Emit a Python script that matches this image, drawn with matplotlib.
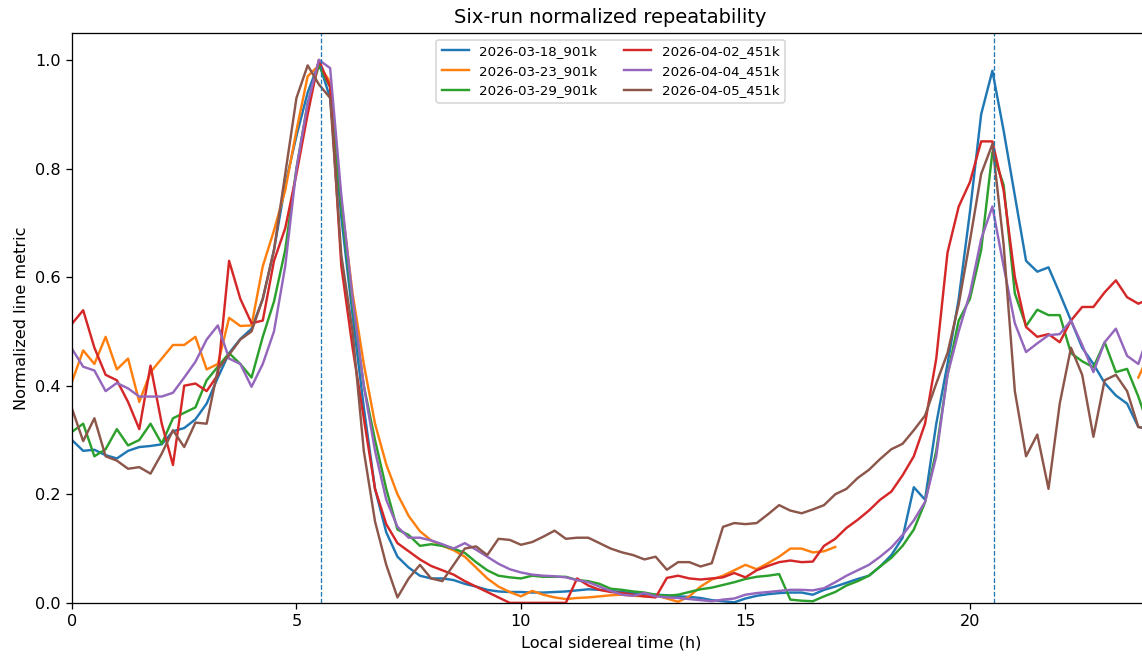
import matplotlib
matplotlib.use('Agg')
import matplotlib.pyplot as plt
import numpy as np

nan = np.nan

# local sidereal time grid (h), 0.25 h steps
lst = np.arange(0, 24.01, 0.25)

run_labels = ["2026-03-18_901k", "2026-03-23_901k", "2026-03-29_901k",
              "2026-04-02_451k", "2026-04-04_451k", "2026-04-05_451k"]

run_0318 = [0.30, 0.28, 0.282, 0.272, 0.266, 0.28, 0.287, 0.289, 0.292, 0.316, 0.322, 0.338,
            0.367, 0.415, 0.46, 0.486, 0.505, 0.56, 0.65, 0.77, 0.86, 0.94, 0.995, 0.93,
            0.71, 0.53, 0.36, 0.21, 0.13, 0.085, 0.065, 0.05, 0.045, 0.045, 0.042, 0.035,
            0.03, 0.024, 0.021, 0.02, 0.02, 0.019, 0.019, 0.02, 0.021, 0.023, 0.025, 0.024,
            0.022, 0.02, 0.018, 0.016, 0.015, 0.014, 0.012, 0.011, 0.009, 0.005, 0.003, 0.001,
            0.008, 0.013, 0.016, 0.018, 0.019, 0.019, 0.015, 0.024, 0.03, 0.037, 0.044, 0.05,
            0.067, 0.088, 0.12, 0.213, 0.19, 0.33, 0.44, 0.56, 0.72, 0.90, 0.98, 0.87,
            0.75, 0.63, 0.61, 0.618, 0.57, 0.52, 0.47, 0.44, 0.405, 0.382, 0.367, 0.324,
            0.32]

run_0323 = [0.407, 0.465, 0.44, 0.49, 0.43, 0.45, 0.37, 0.425, 0.45, 0.475, 0.475, 0.49,
            0.43, 0.44, 0.525, 0.51, 0.511, 0.62, 0.686, 0.76, 0.87, 0.97, 0.99, 0.96,
            0.74, 0.57, 0.44, 0.33, 0.255, 0.20, 0.16, 0.132, 0.115, 0.105, 0.097, 0.085,
            0.065, 0.045, 0.03, 0.02, 0.012, 0.022, 0.015, 0.01, 0.007, 0.009, 0.01, 0.012,
            0.014, 0.015, 0.013, 0.012, 0.014, 0.008, 0.002, 0.012, 0.03, 0.043, 0.05, 0.06,
            0.07, 0.062, 0.073, 0.085, 0.10, 0.10, 0.093, 0.095, 0.103, nan, nan, nan,
            nan, nan, nan, nan, nan, nan, nan, nan, nan, nan, nan, nan,
            nan, nan, nan, nan, nan, nan, nan, nan, nan, nan, nan, 0.415,
            0.46]

run_0329 = [0.315, 0.33, 0.27, 0.283, 0.32, 0.29, 0.30, 0.33, 0.293, 0.34, 0.35, 0.36,
            0.41, 0.435, 0.46, 0.44, 0.415, 0.49, 0.555, 0.65, 0.80, 0.92, 0.99, 0.95,
            0.73, 0.55, 0.40, 0.30, 0.21, 0.135, 0.125, 0.105, 0.108, 0.105, 0.10, 0.092,
            0.075, 0.06, 0.05, 0.047, 0.045, 0.05, 0.048, 0.048, 0.048, 0.042, 0.04, 0.035,
            0.026, 0.024, 0.021, 0.019, 0.015, 0.013, 0.015, 0.02, 0.025, 0.028, 0.033, 0.038,
            0.044, 0.048, 0.05, 0.053, 0.006, 0.004, 0.003, 0.012, 0.02, 0.032, 0.04, 0.05,
            0.067, 0.083, 0.105, 0.135, 0.185, 0.28, 0.42, 0.52, 0.56, 0.65, 0.83, 0.77,
            0.57, 0.51, 0.54, 0.53, 0.53, 0.46, 0.445, 0.434, 0.48, 0.425, 0.431, 0.38,
            0.32]

run_0402 = [0.514, 0.539, 0.47, 0.42, 0.41, 0.37, 0.32, 0.437, 0.33, 0.254, 0.40, 0.404,
            0.39, 0.42, 0.63, 0.56, 0.515, 0.52, 0.63, 0.69, 0.79, 0.90, 1.0, 0.95,
            0.62, 0.47, 0.34, 0.21, 0.145, 0.11, 0.095, 0.08, 0.068, 0.06, 0.052, 0.04,
            0.03, 0.02, 0.01, 0.0, 0.0, 0.0, 0.0, 0.0, 0.0, 0.045, 0.032, 0.024,
            0.02, 0.018, 0.015, 0.012, 0.01, 0.046, 0.05, 0.045, 0.043, 0.045, 0.047, 0.055,
            0.047, 0.06, 0.068, 0.075, 0.078, 0.075, 0.076, 0.105, 0.118, 0.138, 0.153, 0.17,
            0.19, 0.205, 0.235, 0.27, 0.33, 0.45, 0.645, 0.73, 0.775, 0.85, 0.85, 0.76,
            0.60, 0.508, 0.49, 0.495, 0.48, 0.52, 0.545, 0.545, 0.572, 0.594, 0.563, 0.551,
            0.56]

run_0404 = [0.468, 0.435, 0.428, 0.39, 0.405, 0.395, 0.38, 0.38, 0.38, 0.387, 0.415, 0.444,
            0.485, 0.511, 0.45, 0.44, 0.398, 0.44, 0.50, 0.62, 0.80, 0.92, 1.0, 0.985,
            0.75, 0.56, 0.40, 0.28, 0.19, 0.14, 0.12, 0.12, 0.115, 0.108, 0.10, 0.11,
            0.098, 0.085, 0.072, 0.062, 0.056, 0.052, 0.05, 0.049, 0.047, 0.042, 0.038, 0.03,
            0.022, 0.015, 0.013, 0.018, 0.012, 0.01, 0.009, 0.007, 0.005, 0.003, 0.006, 0.008,
            0.015, 0.018, 0.02, 0.022, 0.024, 0.024, 0.023, 0.027, 0.038, 0.05, 0.06, 0.07,
            0.085, 0.102, 0.125, 0.152, 0.186, 0.27, 0.42, 0.50, 0.57, 0.67, 0.73, 0.62,
            0.515, 0.462, 0.478, 0.493, 0.495, 0.52, 0.475, 0.425, 0.48, 0.505, 0.455, 0.44,
            0.50]

run_0405 = [0.358, 0.298, 0.34, 0.27, 0.262, 0.247, 0.25, 0.238, 0.275, 0.318, 0.287, 0.332,
            0.33, 0.43, 0.457, 0.485, 0.50, 0.56, 0.65, 0.79, 0.93, 0.99, 0.955, 0.93,
            0.64, 0.50, 0.28, 0.15, 0.07, 0.01, 0.045, 0.07, 0.045, 0.04, 0.07, 0.10,
            0.104, 0.088, 0.118, 0.116, 0.107, 0.112, 0.122, 0.133, 0.118, 0.12, 0.12, 0.11,
            0.10, 0.093, 0.088, 0.08, 0.085, 0.061, 0.075, 0.075, 0.067, 0.073, 0.14, 0.147,
            0.145, 0.147, 0.163, 0.18, 0.17, 0.165, 0.172, 0.18, 0.20, 0.21, 0.23, 0.245,
            0.265, 0.283, 0.293, 0.318, 0.345, 0.404, 0.46, 0.55, 0.667, 0.79, 0.845, 0.66,
            0.39, 0.27, 0.31, 0.21, 0.367, 0.47, 0.42, 0.306, 0.41, 0.42, 0.39, 0.324,
            0.32]

transit_lst = [5.55, 20.53]

runs = [run_0318, run_0323, run_0329, run_0402, run_0404, run_0405]

# rendered at 116 dpi so the default text/line sizes come out a bit larger
fig = plt.figure(figsize=(1142 / 116, 656 / 116), dpi=116)
ax = fig.add_axes([0.063, 0.081, 0.9436, 0.869])

for label, values in zip(run_labels, runs):
    ax.plot(lst, values, label=label)

for t in transit_lst:
    ax.axvline(t, color='tab:blue', linestyle='--', linewidth=0.8)

ax.set_xlim(0, 24)
ax.set_ylim(0, 1.05)
ax.set_title("Six-run normalized repeatability")
ax.set_xlabel("Local sidereal time (h)")
ax.set_ylabel("Normalized line metric")
ax.legend(loc='upper center', ncol=2, fontsize='small')

fig.savefig("out.png", dpi=116)
